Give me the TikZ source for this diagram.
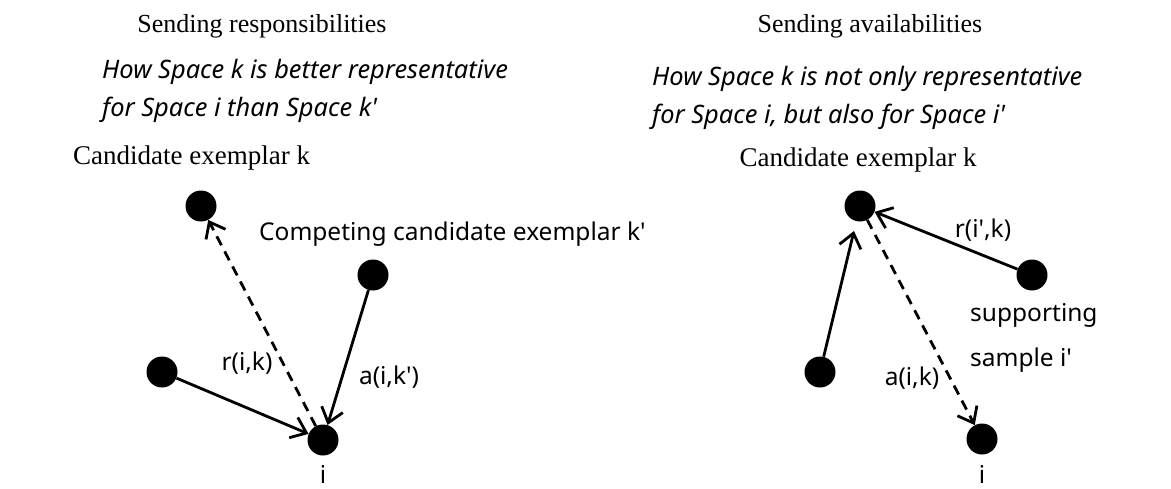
\documentclass[tikz,border=0pt]{standalone}
\usepackage{fontspec}
\setmainfont{Liberation Serif}
\newfontfamily\uifont{Noto Sans}
\usetikzlibrary{arrows.meta}
\begin{document}
\begin{tikzpicture}[x=1pt,y=-1pt,
  dot/.style={circle,fill=black,minimum size=31pt,inner sep=0pt},
  heading/.style={font=\fontsize{26}{30}\selectfont,inner sep=0pt},
  cand/.style={font=\fontsize{27}{31}\selectfont,inner sep=0pt},
  question/.style={font=\uifont\itshape\fontsize{25.4}{30}\selectfont,inner sep=0pt,anchor=base west},
  lbl/.style={font=\uifont\fontsize{24.5}{29}\selectfont,inner sep=0pt},
  link/.style={line width=2.8pt,-{Straight Barb[length=14pt,width=22pt,line width=2.8pt]}},
  dlink/.style={link,dash pattern=on 10pt off 7pt}]
\useasboundingbox (0,0) rectangle (1171,488);

% ---------- left panel: sending responsibilities ----------
\node[heading,anchor=base] (titleL) at (262,32) {Sending responsibilities};
\node[question] (qL1) at (102,78) {How Space k is better representative};
\node[question] (qL2) at (102,116) {for Space i than Space k'};
\node[cand,anchor=base west] (candL) at (73,164) {Candidate exemplar k};

\node[dot] (kL) at (201,206) {};
\node[dot] (cL) at (373,275) {};
\node[dot] (sL) at (162,372) {};
\node[dot] (iL) at (323,440) {};

\node[lbl,anchor=base west] (compL) at (259,240) {Competing candidate exemplar k'};
\node[lbl] (rL) at (247,363) {r(i,k)};
\node[lbl] (aL) at (389,377) {a(i,k')};
\node[lbl,anchor=base] (iLlbl) at (323,483) {i};

\draw[dlink] (iL) -- (kL);
\draw[link] (sL) -- (iL);
\draw[link] (cL) -- (iL);

% ---------- right panel: sending availabilities ----------
\node[heading,anchor=base] (titleR) at (870,32) {Sending availabilities};
\node[question] (qR1) at (652,85) {How Space k is not only representative};
\node[question] (qR2) at (652,123) {for Space i, but also for Space i'};
\node[cand,anchor=base] (candR) at (858,166) {Candidate exemplar k};

\node[dot] (kR) at (860,206) {};
\node[dot] (pR) at (1032,275) {};
\node[dot] (sR) at (820,372) {};
\node[dot] (iR) at (982,439) {};

\node[lbl] (rR) at (983,230) {r(i',k)};
\node[lbl,anchor=west] (supR) at (970,315) {supporting};
\node[lbl,anchor=west] (smpR) at (970,360) {sample i'};
\node[lbl] (aR) at (912,378) {a(i,k)};
\node[lbl,anchor=base] (iRlbl) at (982,483) {i};

\draw[link,shorten >=10pt] (sR) -- (kR);
\draw[link] (pR) -- (kR);
\draw[dlink] (kR) -- (iR);
\end{tikzpicture}
\end{document}
